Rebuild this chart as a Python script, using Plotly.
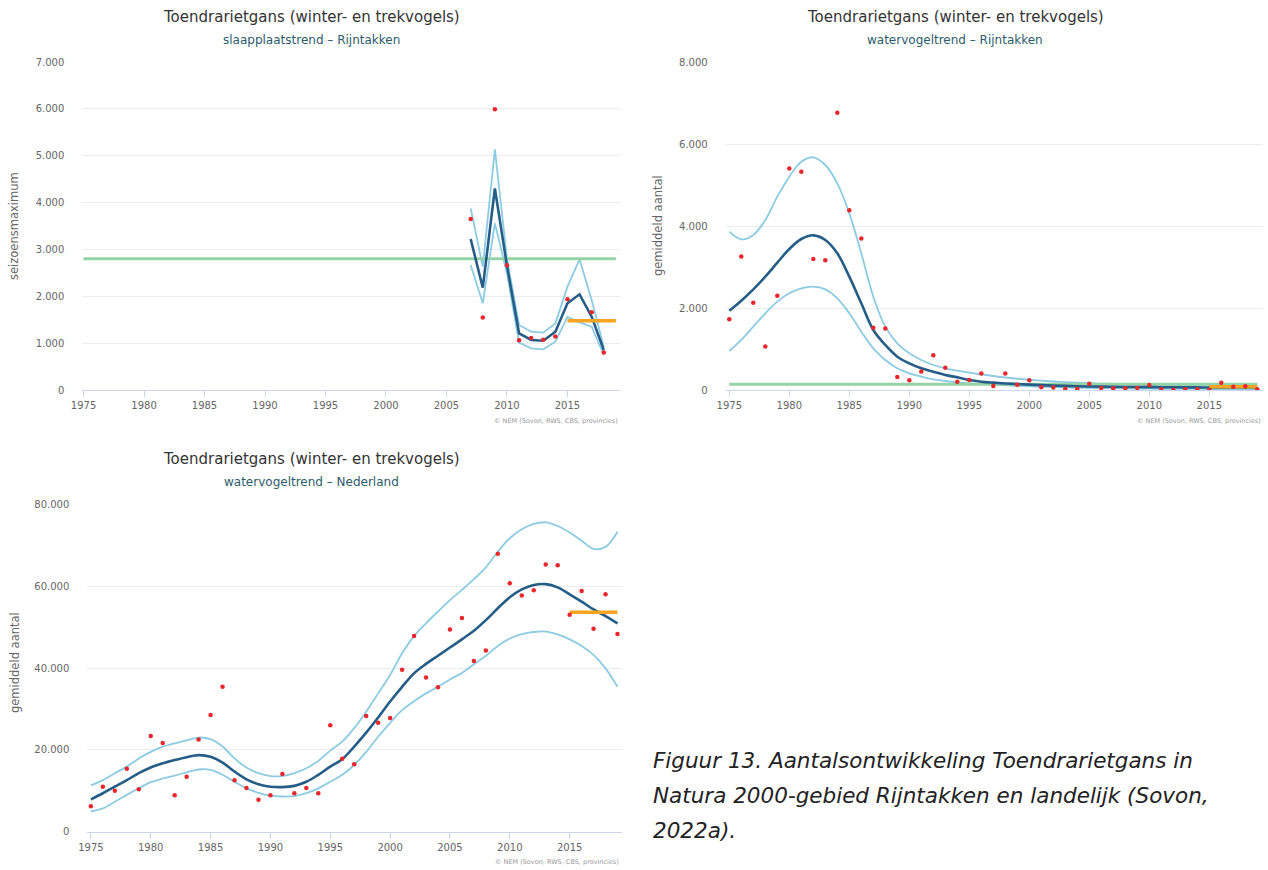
import plotly.graph_objects as go

# ---------------- data ----------------
years1 = list(range(2007, 2019))
dots1 = [3650, 1545, 5990, 2660, 1060, 1110, 1070, 1140, 1935, None, 1660, 800]
trend1 = [3222, 2183, 4300, 2650, 1209, 1067, 1052, 1244, 1850, 2042, 1565, 854]
upper1 = [3877, 2632, 5137, 2800, 1387, 1244, 1223, 1422, 2205, 2788, 1920, 924]
lower1 = [2667, 1850, 3557, 2490, 1010, 889, 868, 1031, 1560, 1444, 1351, 747]
green1_years = [1975, 2019]
green1_vals = [2800, 2800]
orange1_years = [2015, 2019]
orange1_vals = [1480, 1480]

years2 = list(range(1975, 2020))
dots2 = [1730, 3260, 2130, 1060, 2300, 5410, 5330, 3200, 3170, 6770,
         4390, 3700, 1520, 1500, 320, 240, 450, 850, 545, 200,
         245, 400, 100, 400, 130, 240, 65, 60, 30, 30,
         150, 50, 40, 40, 50, 120, 20, 5, 20, 20,
         5, 180, 80, 90, 20]
trend2 = [1937, 2181, 2458, 2767, 3109, 3442, 3686, 3776, 3662, 3337,
          2767, 2116, 1465, 1099, 813, 651, 529, 447, 366, 309,
          244, 203, 179, 160, 145, 130, 118, 108, 100, 93,
          87, 82, 78, 75, 72, 70, 68, 66, 64, 63,
          62, 62, 62, 62, 62]
upper2 = [3865, 3678, 3784, 4150, 4720, 5208, 5574, 5680, 5493, 5046,
          4313, 3337, 2278, 1546, 1140, 896, 732, 610, 529, 472,
          423, 383, 342, 305, 275, 250, 228, 208, 192, 178,
          165, 155, 146, 138, 132, 126, 122, 118, 116, 115,
          115, 116, 118, 122, 128]
lower2 = [952, 1221, 1546, 1872, 2157, 2360, 2482, 2523, 2458, 2238,
          1872, 1424, 1017, 732, 529, 407, 326, 260, 220, 187,
          163, 146, 130, 115, 100, 88, 78, 68, 60, 54,
          48, 44, 40, 37, 34, 32, 30, 28, 27, 26,
          25, 24, 22, 20, 18]
green2_years = [1975, 2019]
green2_vals = [140, 140]
orange2_years = [2015, 2019]
orange2_vals = [80, 80]

years3 = list(range(1975, 2020))
dots3 = [6200, 11000, 10000, 15400, 10400, 23400, 21700, 8900, 13400, 22500,
         28500, 35400, 12600, 10700, 7800, 8900, 14100, 9400, 10700, 9400,
         26000, 17800, 16500, 28300, 26600, 27800, 39600, 47800, 37700, 35300,
         49400, 52200, 41700, 44300, 67900, 60700, 57700, 59000, 65300, 65100,
         53000, 58800, 49600, 58000, 48300]
trend3 = [7900, 9400, 11000, 12600, 14300, 15700, 16700, 17500, 18200, 18700,
          18300, 16900, 14700, 12800, 11600, 11000, 10900, 11200, 12200, 13900,
          15900, 17700, 20800, 24200, 27900, 31800, 35400, 38700, 41000, 43000,
          45000, 47000, 49100, 51700, 54600, 57300, 59200, 60300, 60500, 59700,
          58000, 56200, 54300, 52700, 50900]
upper3 = [11300, 12600, 14300, 15900, 17900, 19500, 20800, 21600, 22300, 23000,
          22600, 20800, 17900, 15700, 14300, 13600, 13600, 14300, 15500, 17300,
          19800, 22000, 25300, 29300, 33800, 38300, 43600, 47800, 50900, 53800,
          56600, 59100, 61700, 64600, 68400, 71700, 73900, 75200, 75600, 74700,
          73100, 71100, 69100, 69600, 73300]
lower3 = [5000, 5700, 7300, 9000, 10600, 12100, 13000, 13700, 14500, 15200,
          15100, 13900, 12200, 10600, 9500, 8800, 8600, 8700, 9400, 10600,
          12200, 13900, 16300, 19500, 23200, 26600, 29700, 31900, 33800, 35400,
          37200, 38800, 40900, 43000, 45400, 47200, 48300, 48800, 48900, 48200,
          47000, 45400, 43200, 39900, 35400]
orange3_years = [2015, 2019]
orange3_vals = [53600, 53600]

title_main = "Toendrarietgans (winter- en trekvogels)"
subtitles = ["slaapplaatstrend – Rijntakken", "watervogeltrend – Rijntakken",
             "watervogeltrend – Nederland"]
ytitles = ["seizoensmaximum", "gemiddeld aantal", "gemiddeld aantal"]
credit = "© NEM (Sovon, RWS, CBS, provincies)"
caption_lines = ["Figuur 13. Aantalsontwikkeling Toendrarietgans in",
                 "Natura 2000-gebied Rijntakken en landelijk (Sovon,",
                 "2022a)."]

# ---------------- styling / layout ----------------
W, H = 1268, 870
FONT = "DejaVu Sans"
C_BAND = "#8ccbe2"
C_TREND = "#255d87"
C_DOT = "#e8262b"
C_GREEN = "#95d3a6"
C_ORANGE = "#f5a522"


def px_x(v):
    return v / W


def px_y(v):
    return 1 - v / H


fig = go.Figure()


def add_panel(idx, years, dots, trend, upper, lower, green, orange, spline):
    xa = "x" if idx == 1 else f"x{idx}"
    ya = "y" if idx == 1 else f"y{idx}"
    shape = "spline" if spline else "linear"
    for band in (upper, lower):
        fig.add_trace(go.Scatter(x=years, y=band, mode="lines", xaxis=xa, yaxis=ya,
                                 line=dict(color=C_BAND, width=1.8, shape=shape),
                                 showlegend=False, hoverinfo="skip"))
    if green is not None:
        fig.add_trace(go.Scatter(x=green[0], y=green[1], mode="lines", xaxis=xa, yaxis=ya,
                                 line=dict(color=C_GREEN, width=3), showlegend=False))
    fig.add_trace(go.Scatter(x=years, y=trend, mode="lines", xaxis=xa, yaxis=ya,
                             line=dict(color=C_TREND, width=2.6, shape=shape),
                             showlegend=False))
    fig.add_trace(go.Scatter(x=orange[0], y=orange[1], mode="lines", xaxis=xa, yaxis=ya,
                             line=dict(color=C_ORANGE, width=3.5), showlegend=False))
    fig.add_trace(go.Scatter(x=years, y=dots, mode="markers", xaxis=xa, yaxis=ya,
                             marker=dict(color=C_DOT, size=4.5), showlegend=False))


add_panel(1, years1, dots1, trend1, upper1, lower1,
          (green1_years, green1_vals), (orange1_years, orange1_vals), False)
add_panel(2, years2, dots2, trend2, upper2, lower2,
          (green2_years, green2_vals), (orange2_years, orange2_vals), True)
add_panel(3, years3, dots3, trend3, upper3, lower3,
          None, (orange3_years, orange3_vals), True)

# panel geometry in pixels: (left, right, top, bottom, xrange, ymax, dtick)
panels = [
    (82.3, 619.5, 62.0, 390.0, [1974.9, 2019.3], 7000, 1000),
    (725.7, 1263.3, 62.3, 390.0, [1974.7, 2019.5], 8000, 2000),
    (87.3, 621.7, 504.3, 831.7, [1974.7, 2019.35], 80000, 20000),
]

axis_common_x = dict(showgrid=False, zeroline=False, showline=True, linecolor="#ccd6eb",
                     linewidth=1, ticks="outside", tickcolor="#ccd6eb", ticklen=6,
                     automargin=False,
                     tick0=1975, dtick=5, tickfont=dict(family=FONT, size=10, color="#666666"))
axis_common_y = dict(showgrid=True, gridcolor="#ececec", gridwidth=1, zeroline=False,
                     showline=False, tickformat=",d", ticklabelstandoff=17, automargin=False,
                     tickfont=dict(family=FONT, size=10, color="#666666"))

for i, (l, r, t, b, xr, ymax, dt) in enumerate(panels, start=1):
    xk = "xaxis" if i == 1 else f"xaxis{i}"
    yk = "yaxis" if i == 1 else f"yaxis{i}"
    xa = "x" if i == 1 else f"x{i}"
    ya = "y" if i == 1 else f"y{i}"
    fig.update_layout({
        xk: dict(axis_common_x, domain=[px_x(l), px_x(r)], range=xr, anchor=ya),
        yk: dict(axis_common_y, domain=[px_y(b), px_y(t)], range=[0, ymax], dtick=dt, anchor=xa),
    })

annotations = []
title_pos = [(311, 17, 40), (955, 17, 40), (311, 459, 482)]
for (cx, ty, sy), sub in zip(title_pos, subtitles):
    annotations.append(dict(x=px_x(cx), y=px_y(ty), xref="paper", yref="paper", text=title_main,
                            showarrow=False, xanchor="center", yanchor="middle",
                            font=dict(family=FONT, size=15, color="#333333")))
    annotations.append(dict(x=px_x(cx), y=px_y(sy), xref="paper", yref="paper", text=sub,
                            showarrow=False, xanchor="center", yanchor="middle",
                            font=dict(family=FONT, size=12, color="#2b5b6b")))

ytitle_pos = [(14, 226), (658, 226), (15, 663)]
for (cx, cy), txt in zip(ytitle_pos, ytitles):
    annotations.append(dict(x=px_x(cx), y=px_y(cy), xref="paper", yref="paper", text=txt,
                            showarrow=False, textangle=-90, xanchor="center", yanchor="middle",
                            font=dict(family=FONT, size=11.5, color="#666666")))

credit_pos = [(620, 421), (1263, 421), (621, 862)]
for (rx, cy) in credit_pos:
    annotations.append(dict(x=px_x(rx), y=px_y(cy), xref="paper", yref="paper", text=credit,
                            showarrow=False, xanchor="right", yanchor="middle",
                            font=dict(family=FONT, size=6.5, color="#999999")))

cap_y = [760, 795, 830]
for cy, line in zip(cap_y, caption_lines):
    annotations.append(dict(x=px_x(651), y=px_y(cy), xref="paper", yref="paper",
                            text=f"<i>{line}</i>", showarrow=False, xanchor="left",
                            yanchor="middle", font=dict(family="DejaVu Sans", size=21.5,
                                                        color="#222222")))

fig.update_layout(width=W, height=H,
                  margin=dict(l=0, r=0, t=0, b=0, pad=0, autoexpand=False),
                  paper_bgcolor="white", plot_bgcolor="white", separators=",.",
                  showlegend=False, annotations=annotations, hovermode=False)

fig.write_html("out.html",
               post_script="document.body.style.margin='0';document.body.style.padding='0';"
                           "document.documentElement.style.overflow='hidden';")
